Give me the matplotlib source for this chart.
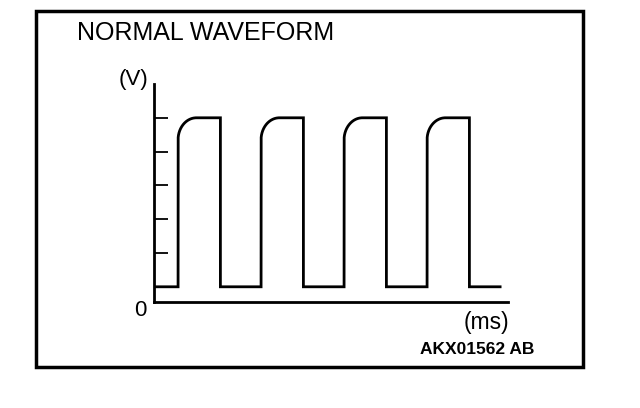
import matplotlib
matplotlib.use("Agg")
import matplotlib.pyplot as plt
import matplotlib.patches as mpatches
import numpy as np

# waveform data (arbitrary units)
rise_times = [2.9, 12.9, 22.9, 32.9]    # ms
fall_times = [8.0, 18.0, 28.0, 38.0]    # ms
t_start = 0.0
t_end = 41.7
v_low = 0.45
v_high = 5.45
corner_width = 2.2     # ms, rounded top-left corner of each pulse
corner_height = 0.65
y_ticks = [1.45, 2.45, 3.45, 4.45, 5.45]

title = "NORMAL WAVEFORM"
code_label = "AKX01562 AB"


def build_trace():
    """
    Build the square-ish trace with rounded rise corners
    """
    t = [t_start]
    v = [v_low]
    theta = np.linspace(0, np.pi / 2, 30)
    for r, f in zip(rise_times, fall_times):
        t += [r, r]
        v += [v_low, v_high - corner_height]
        t += list(r + corner_width * (1 - np.cos(theta)))
        v += list(v_high - corner_height + corner_height * np.sin(theta))
        t += [f, f]
        v += [v_high, v_low]
    t.append(t_end)
    v.append(v_low)
    return np.array(t), np.array(v)


W, H = 640, 408
fig = plt.figure(figsize=(6.4, 4.08), dpi=100)
plt.rcParams["font.family"] = ["Liberation Sans", "DejaVu Sans"]

# outer frame
fig.patches.append(mpatches.Rectangle(
    (36 / W, 1 - 367 / H), (583 - 36) / W, (367 - 11) / H,
    transform=fig.transFigure, fill=False, lw=2.5, ec="black"))

ax = fig.add_axes([154 / W, 1 - 302 / H, (508 - 154) / W, (302 - 84) / H])
t, v = build_trace()
ax.plot(t, v, color="black", lw=2.0, solid_joinstyle="miter")
ax.set_xlim(0, 42.65)
ax.set_ylim(0, 6.45)
for s in ["top", "right"]:
    ax.spines[s].set_visible(False)
ax.spines["left"].set_linewidth(2.0)
ax.spines["bottom"].set_linewidth(2.0)
ax.set_xticks([])
ax.set_yticks(y_ticks)
ax.tick_params(axis="y", direction="in", length=10, width=1.3, labelleft=False)

fig.text(77 / W, 1 - 33 / H, title, fontsize=18, va="center", ha="left")
fig.text(134 / W, 1 - 80 / H, "(V)", fontsize=16, va="center", ha="center")
fig.text(140 / W, 1 - 311 / H, "0", fontsize=16, va="center", ha="center")
fig.text(486 / W, 1 - 323 / H, "(ms)", fontsize=16.5, va="center", ha="center")
fig.text(534 / W, 1 - 350 / H, code_label, fontsize=12.5, fontweight="bold",
         va="center", ha="right")

fig.savefig("out.png", dpi=100)
